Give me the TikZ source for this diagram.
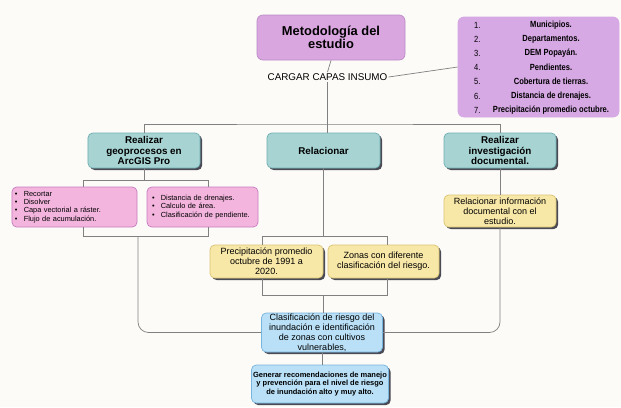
\documentclass[tikz,border=0pt]{standalone}
\usepackage{fontspec}
\setmainfont{Liberation Sans}
\newfontfamily\narrowfont[FakeStretch=0.85]{Liberation Sans}
\usetikzlibrary{shadows}
\definecolor{paper}{HTML}{FCFBF7}
\definecolor{titlefill}{HTML}{D9A6E0}
\definecolor{titleedge}{HTML}{B98AC4}
\definecolor{listfill}{HTML}{D6A8E4}
\definecolor{tealfill}{HTML}{A7D3D3}
\definecolor{tealedge}{HTML}{6FAFB1}
\definecolor{pinkfill}{HTML}{F3B4DD}
\definecolor{pinkedge}{HTML}{C77CC0}
\definecolor{yellowfill}{HTML}{F8E8A8}
\definecolor{yellowedge}{HTML}{D8C374}
\definecolor{bluefill}{HTML}{B9E0F7}
\definecolor{blueedge}{HTML}{77B5DE}
\definecolor{shadowgrey}{HTML}{4A4A55}
\definecolor{linegrey}{HTML}{808080}
\newcommand{\bul}{\makebox[7.5pt][l]{\textbullet}}
\begin{document}
\begin{tikzpicture}[x=0.03cm, y=-0.03cm,
    box/.style={draw, rounded corners=4pt, line width=0.6pt, inner sep=0pt, align=center},
    shadowed/.style={drop shadow={shadow xshift=1.8pt, shadow yshift=-1.8pt, fill=shadowgrey, opacity=1}},
    headbox/.style={box, shadowed, fill=tealfill, draw=tealedge, minimum width=3.36cm, minimum height=1.05cm, font=\bfseries\fontsize{8.4}{8.8}\selectfont},
    notebox/.style={box, draw=pinkedge, fill=pinkfill, minimum height=1.2cm, align=left, font=\fontsize{6.3}{7.1}\selectfont},
    resultbox/.style={box, shadowed, fill=yellowfill, draw=yellowedge, minimum height=0.99cm, font=\fontsize{7.7}{8.5}\selectfont},
    finalbox/.style={box, shadowed, fill=bluefill, draw=blueedge},
    link/.style={draw=linegrey, line width=0.6pt}]
        \fill[paper] (0,0) rectangle (621,407);
        \node[box, fill=titlefill, draw=titleedge, rounded corners=5pt, minimum width=4.44cm, minimum height=1.35cm, font=\bfseries\fontsize{11}{11.5}\selectfont] (title) at (331,37.5) {Metodología del\\estudio};
        \node[inner sep=1pt, font=\fontsize{8.4}{9}\selectfont] (cargar) at (327.5,77) {CARGAR CAPAS INSUMO};
        \node[box, fill=listfill, draw=listfill, rounded corners=5pt, minimum width=4.83cm, minimum height=3cm] (list) at (538.5,67) {};
        \foreach \t [count=\k] in {Municipios., Departamentos., DEM Popayán., Pendientes., Cobertura de tierras., Distancia de drenajes., Precipitación promedio octubre.}{
            \node[anchor=west, inner sep=0pt, font=\narrowfont\fontsize{7.6}{8}\selectfont] (num\k) at (474, 10.8+14.2*\k) {\k.};
            \node[inner sep=0pt, font=\narrowfont\bfseries\fontsize{7.6}{8}\selectfont] (item\k) at (551, 10.8+14.2*\k) {\t};
        }
        \node[headbox] (geo) at (144,150.5) {Realizar\\geoprocesos en\\ArcGIS Pro};
        \node[headbox, minimum width=3.39cm] (rel) at (323.5,150.5) {Relacionar};
        \node[headbox] (inv) at (500,150.5) {Realizar\\investigación\\documental.};
        \node[notebox, inner xsep=0.09cm, text width=3.57cm] (pink1) at (74.5,207) {\bul Recortar\\\bul Disolver\\\bul Capa vectorial a ráster.\\\bul Flujo de acumulación.};
        \node[notebox, inner xsep=0.15cm, text width=3.03cm] (pink2) at (202.5,207) {\bul Distancia de drenajes.\\\bul Calculo de área.\\\bul Clasificación de pendiente.};
        \node[resultbox, minimum width=3.36cm, minimum height=0.96cm] (yinv) at (500,211) {Relacionar información\\documental con el\\estudio.};
        \node[resultbox, minimum width=3.39cm] (yel1) at (266.5,261.5) {Precipitación promedio\\octubre de 1991 a\\2020.};
        \node[resultbox, minimum width=3.33cm] (yel2) at (383.5,261.5) {Zonas con diferente\\clasificación del riesgo.};
        \node[finalbox, minimum width=3.63cm, minimum height=1.17cm, font=\fontsize{7.7}{8.5}\selectfont] (blue1) at (322,332.5) {Clasificación de riesgo del\\inundación e identificación\\de zonas con cultivos\\vulnerables,};
        \node[finalbox, minimum width=4.11cm, minimum height=1.14cm, font=\bfseries\fontsize{6.4}{7.1}\selectfont] (blue2) at (320,384) {Generar recomendaciones de manejo\\y prevención para el nivel de riesgo\\de inundación alto y muy alto.};

        \coordinate (bus) at (327.5,124);
        \coordinate (gl) at (83,180);
        \coordinate (gr) at (208,180);
        \coordinate (gb) at (138,236);
        \coordinate (rl) at (262,236);
        \coordinate (rr) at (387,236);
        \coordinate (yb) at (323,295);

        \draw[link] (title.south) -- (cargar.north);
        \draw[link] (cargar.east) -- (list.west);
        \draw[link] (cargar.south) -- (bus |- rel.north);
        \draw[link] (geo.north) |- (bus) -| (inv.north);
        \draw[link] (geo.south) -- (geo.south |- gl);
        \draw[link] (gl |- pink1.north) -- (gl) -- (gr) -- (gr |- pink2.north);
        \draw[link] (gl |- pink1.south) -- (gl |- gb) -- (gr |- gb) -- (gr |- pink2.south);
        \draw[link, rounded corners=9pt] (gb) |- (blue1.west);
        \draw[link] (rel.south) -- (rel.south |- rl);
        \draw[link] (rl |- yel1.north) -- (rl) -- (rr) -- (rr |- yel2.north);
        \draw[link] (rl |- yel1.south) -- (rl |- yb) -- (rr |- yb) -- (rr |- yel2.south);
        \draw[link] (yb) -- (yb |- blue1.north);
        \draw[link] (inv.south) -- (yinv.north);
        \draw[link, rounded corners=9pt] (yinv.south) |- (blue1.east);
        \draw[link] (blue1.south) -- (blue1.south |- blue2.north);
\end{tikzpicture}
\end{document}
